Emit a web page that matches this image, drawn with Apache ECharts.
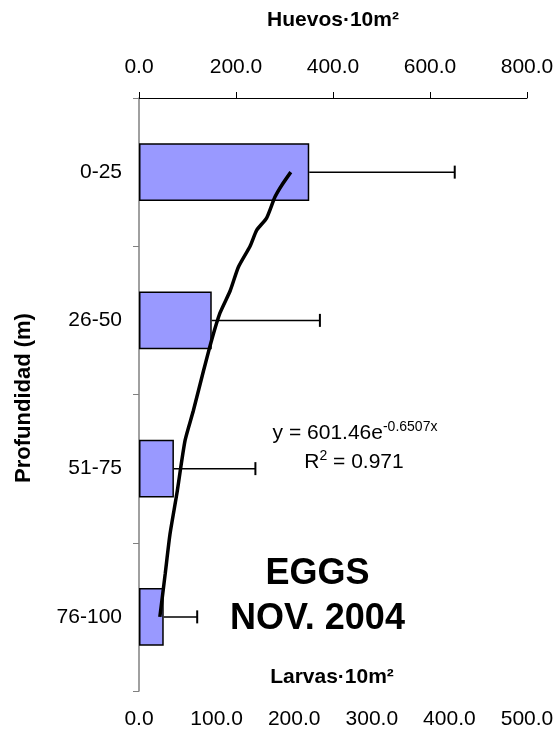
<!DOCTYPE html>
<html><head><meta charset="utf-8">
<script src="https://cdn.jsdelivr.net/npm/echarts@6/dist/echarts.min.js"></script>
<style>html,body{margin:0;padding:0;background:#fff}#c{width:560px;height:734px}</style>
</head><body><div id="c"></div>
<script>
// ---- data ----
const depthCategories = ['0-25', '26-50', '51-75', '76-100'];
const eggValues = [351, 150, 72, 51];
const eggErrors = [300, 223, 168, 69];
// fitted exponential trend (value, depth-class position)
const trendValues = [313, 294, 280, 263, 243, 229, 205, 188, 167, 150, 133, 112, 95, 78, 64, 54, 43];
const trendPositions = [0, 0.09, 0.17, 0.31, 0.39, 0.50, 0.64, 0.80, 0.95, 1.13, 1.34, 1.61, 1.81, 2.17, 2.44, 2.71, 3.0];
const topAxisTicks = [0, 200, 400, 600, 800];
const bottomAxisTicks = [0, 100, 200, 300, 400, 500];
const topAxisName = 'Huevos·10m²';
const bottomAxisName = 'Larvas·10m²';
const yAxisName = 'Profundidad (m)';
const equationText = ['y = 601.46e', '-0.6507x'];
const r2Text = ['R', '2', ' = 0.971'];
const titleLines = ['EGGS', 'NOV. 2004'];

const FONT = "'Liberation Sans', Arial, Helvetica, sans-serif";
const chart = echarts.init(document.getElementById('c'), null, {renderer: 'canvas'});
const fmt = v => Number(v).toFixed(1);

const option = {
  animation: false,
  backgroundColor: '#fff',
  grid: {left: 139, right: 33, top: 98, bottom: 43, containLabel: false, outerBoundsMode: 'none'},
  xAxis: [
    {
      type: 'value', position: 'top',
      min: topAxisTicks[0], max: topAxisTicks[topAxisTicks.length - 1],
      interval: topAxisTicks[1] - topAxisTicks[0],
      name: topAxisName, nameLocation: 'middle', nameGap: 67,
      nameTextStyle: {fontFamily: FONT, fontSize: 21, fontWeight: 'bold', color: '#000'},
      axisLine: {show: true, onZero: false, lineStyle: {color: '#000', width: 1}},
      axisTick: {show: true, length: 6, lineStyle: {color: '#000', width: 1}},
      axisLabel: {formatter: fmt, fontFamily: FONT, fontSize: 21, color: '#000', margin: 20},
      splitLine: {show: false}
    },
    {
      type: 'value', position: 'bottom',
      min: bottomAxisTicks[0], max: bottomAxisTicks[bottomAxisTicks.length - 1],
      interval: bottomAxisTicks[1] - bottomAxisTicks[0],
      axisLine: {show: false, onZero: false}, axisTick: {show: false}, splitLine: {show: false},
      axisLabel: {formatter: fmt, fontFamily: FONT, fontSize: 21, color: '#000', margin: 18}
    }
  ],
  yAxis: [
    {
      type: 'category', data: depthCategories, inverse: true,
      axisLine: {show: true, onZero: false, lineStyle: {color: '#808080', width: 1.5}},
      axisTick: {show: true, length: 6, lineStyle: {color: '#808080', width: 1}},
      axisLabel: {fontFamily: FONT, fontSize: 21, color: '#000', margin: 17},
      splitLine: {show: false}
    },
    {type: 'value', min: -0.5, max: 3.5, inverse: true, show: false,
      axisLine: {onZero: false}}
  ],
  series: [
    {
      type: 'bar', xAxisIndex: 0, yAxisIndex: 0, data: eggValues, barWidth: '39%',
      itemStyle: {color: '#9999FF', borderColor: '#000', borderWidth: 1.5}, z: 2
    },
    {
      type: 'custom', xAxisIndex: 0, yAxisIndex: 0,
      data: eggValues.map((v, i) => [v, i, v + eggErrors[i]]),
      encode: {x: [0, 2], y: 1},
      renderItem: (params, api) => {
        const a = api.coord([api.value(0), api.value(1)]);
        const b = api.coord([api.value(2), api.value(1)]);
        const h = 6.5;
        return {type: 'group', children: [
          {type: 'line', shape: {x1: a[0], y1: a[1], x2: b[0], y2: b[1]}, style: {stroke: '#000', lineWidth: 1.5}},
          {type: 'line', shape: {x1: b[0], y1: b[1] - h, x2: b[0], y2: b[1] + h}, style: {stroke: '#000', lineWidth: 2}}
        ]};
      },
      z: 3
    },
    {
      type: 'line', xAxisIndex: 0, yAxisIndex: 1,
      data: trendValues.map((v, i) => [v, trendPositions[i]]),
      symbol: 'none', smooth: 0.2,
      lineStyle: {color: '#000', width: 3.5}, z: 5
    }
  ],
  graphic: [
    {type: 'text', x: 24, y: 398, rotation: Math.PI / 2,
      style: {text: yAxisName, font: 'bold 22px ' + FONT, fill: '#000', align: 'center', verticalAlign: 'middle'}},
    {type: 'text', x: 355, y: 432,
      style: {text: '{a|' + equationText[0] + '}{s|' + equationText[1] + '}',
        align: 'center', verticalAlign: 'middle', fill: '#000',
        rich: {a: {fontFamily: FONT, fontSize: 21, lineHeight: 24, verticalAlign: 'bottom'},
               s: {fontFamily: FONT, fontSize: 14, lineHeight: 24, verticalAlign: 'top'}}}},
    {type: 'text', x: 354, y: 461,
      style: {text: '{a|' + r2Text[0] + '}{s|' + r2Text[1] + '}{a|' + r2Text[2] + '}',
        align: 'center', verticalAlign: 'middle', fill: '#000',
        rich: {a: {fontFamily: FONT, fontSize: 21, lineHeight: 24, verticalAlign: 'bottom'},
               s: {fontFamily: FONT, fontSize: 14, lineHeight: 24, verticalAlign: 'top'}}}},
    {type: 'text', x: 317.5, y: 574.5,
      style: {text: titleLines[0], font: 'bold 36px ' + FONT, fill: '#000', align: 'center', verticalAlign: 'middle'}},
    {type: 'text', x: 317.5, y: 619.5,
      style: {text: titleLines[1], font: 'bold 36px ' + FONT, fill: '#000', align: 'center', verticalAlign: 'middle'}},
    {type: 'text', x: 332, y: 677,
      style: {text: bottomAxisName, font: 'bold 21px ' + FONT, fill: '#000', align: 'center', verticalAlign: 'middle'}}
  ]
};
chart.setOption(option);
</script>
</body></html>
